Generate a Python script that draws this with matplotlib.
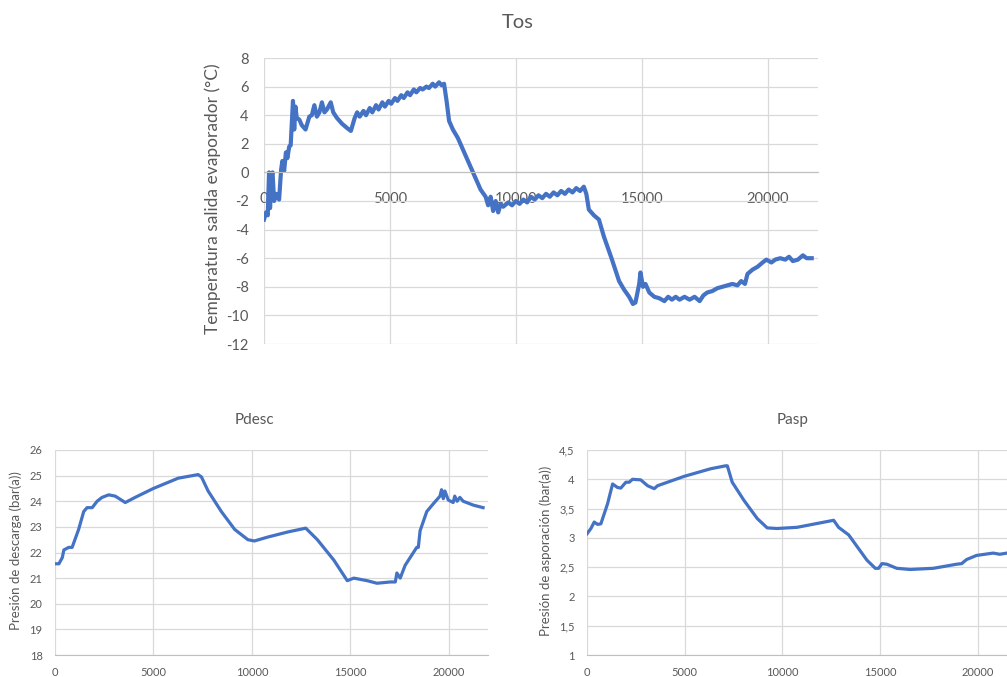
import numpy as np
import matplotlib
matplotlib.use("Agg")
import matplotlib.pyplot as plt
from matplotlib.ticker import FuncFormatter

plt.rcParams['font.family'] = ['Lato', 'DejaVu Sans']
plt.rcParams['axes.unicode_minus'] = False

# ---- datos ----
# Tos: temperatura salida evaporador (°C)
tos_t = [0, 80, 150, 200, 240, 300, 340, 400, 480, 600, 680, 730, 800, 870, 930, 1000, 1060,
         1150, 1200, 1250, 1300, 1400, 1500, 1650, 1800, 1900, 2000, 2100, 2200, 2300, 2400,
         2500, 2650, 2750, 2900, 3100, 3300, 3450,
         3600, 3700, 3800, 3950, 4050, 4200, 4300, 4450, 4550, 4700, 4800, 4950, 5050, 5200,
         5300, 5450, 5550, 5700, 5800, 5950, 6050, 6200, 6300, 6450, 6550, 6700, 6800, 6950,
         7050, 7150,
         7250, 7350, 7500, 7700, 8000, 8300, 8600, 8800, 8900, 9000, 9100, 9200, 9300, 9400,
         9500, 9700, 9850, 10000, 10150, 10300, 10450, 10600, 10750, 10900, 11050, 11200,
         11350, 11500, 11650, 11800, 11950, 12100, 12250, 12400, 12550, 12700,
         12800, 12900, 13100, 13300, 13500, 13800, 14100, 14300, 14500, 14650, 14750, 14900,
         14950, 15050, 15150, 15300, 15500, 15700, 15900, 16050, 16200, 16350, 16500, 16700,
         16900, 17100, 17300, 17450, 17600, 17800, 18000, 18200, 18400, 18600, 18800, 18950,
         19100, 19200, 19400, 19600, 19800, 19950, 20150, 20300, 20500, 20700, 20850, 21000,
         21200, 21400, 21550, 21750]
tos_v = [-3.3, -2.8, -3.0, 0.0, -2.5, -0.2, 0.0, -2.0, -1.5, -1.9, 0.2, 0.8, 0.1, 1.4, 1.0, 1.8, 1.9,
         5.0, 3.0, 4.6, 3.8, 3.7, 3.3, 3.0, 3.9, 4.0, 4.7, 3.9, 4.2, 4.9, 4.2,
         4.4, 4.9, 4.2, 3.8, 3.4, 3.1, 2.9,
         3.8, 4.2, 3.9, 4.3, 4.0, 4.5, 4.2, 4.7, 4.4, 4.9, 4.6, 5.0, 4.8, 5.2,
         5.0, 5.4, 5.2, 5.6, 5.4, 5.8, 5.6, 5.9, 5.8, 6.0, 5.9, 6.2, 6.0, 6.3,
         6.1, 6.2,
         5.0, 3.6, 3.0, 2.4, 1.2, 0.0, -1.2, -1.7, -2.3, -1.7, -2.7, -2.0, -2.8, -2.2,
         -2.4, -2.1, -2.3, -2.0, -2.2, -1.9, -2.1, -1.7, -1.9, -1.6, -1.8, -1.5,
         -1.7, -1.4, -1.6, -1.3, -1.5, -1.2, -1.4, -1.1, -1.3, -1.0,
         -1.5, -2.6, -3.0, -3.3, -4.5, -6.0, -7.6, -8.2, -8.7, -9.2, -9.1, -7.8,
         -7.0, -8.0, -7.8, -8.4, -8.7, -8.8, -9.0, -8.7, -8.9, -8.7, -8.9, -8.7,
         -8.9, -8.7, -9.0, -8.6, -8.4, -8.3, -8.1, -8.0, -7.9, -7.8, -7.9, -7.6,
         -7.8, -7.1, -6.8, -6.6, -6.3, -6.1, -6.3, -6.1, -6.0, -6.1, -5.9, -6.2,
         -6.1, -5.8, -6.0, -6.0]

# Pdesc: presion de descarga (bar(a))
pdesc_t = [0, 200, 370, 450, 700, 870, 1200, 1460, 1630, 1890, 2140, 2390, 2730, 3060, 3570,
           4070, 5000, 6260, 7270, 7440, 7780, 8450, 9130, 9800, 10130, 10800, 11820, 12740,
           13330, 14170, 14850, 15180, 15860, 16360, 17030, 17290, 17370, 17540, 17790,
           18380, 18460, 18550, 18890, 19220, 19560, 19640, 19730, 19810, 19980, 20230,
           20310, 20430, 20570, 20740, 21250, 21750]
pdesc_v = [21.56, 21.56, 21.8, 22.1, 22.2, 22.2, 22.9, 23.6, 23.75, 23.75, 24.0, 24.15, 24.25,
           24.2, 23.95, 24.15, 24.5, 24.9, 25.04, 24.95, 24.4, 23.6, 22.9, 22.5, 22.45, 22.6,
           22.8, 22.95, 22.5, 21.7, 20.9, 21.0, 20.9, 20.8, 20.85, 20.85, 21.2, 21.0, 21.5,
           22.2, 22.2, 22.85, 23.6, 23.9, 24.2, 24.45, 24.1, 24.4, 24.05, 23.95,
           24.2, 24.0, 24.15, 24.0, 23.85, 23.75]

# Pasp: presion de aspiracion (bar(a))
pasp_t = [0, 200, 370, 540, 710, 1050, 1310, 1560, 1730, 1990, 2160, 2330, 2750, 3100, 3440,
          3610, 4970, 6330, 7090, 7180, 7430, 8030, 8710, 9220, 9730, 10750, 12620, 12870,
          13390, 14320, 14750, 14920, 15090, 15340, 15850, 16530, 17720, 18910, 19170,
          19420, 19930, 20780, 21120, 21480, 22000]
pasp_v = [3.07, 3.16, 3.27, 3.23, 3.24, 3.58, 3.92, 3.86, 3.85, 3.95, 3.95, 4.0, 3.99, 3.89,
          3.84, 3.89, 4.05, 4.18, 4.23, 4.23, 3.95, 3.64, 3.33, 3.17, 3.16, 3.18, 3.3, 3.18,
          3.05, 2.62, 2.48, 2.48, 2.56, 2.55, 2.48, 2.46, 2.48, 2.55, 2.56,
          2.63, 2.7, 2.74, 2.72, 2.74, 2.73]

x_ticks = [0, 5000, 10000, 15000, 20000]
tos_ticks = list(range(-12, 9, 2))
pdesc_ticks = list(range(18, 27))
pasp_ticks = [1, 1.5, 2, 2.5, 3, 3.5, 4, 4.5]

azul = '#4472C4'
gris_txt = '#595959'
gris_grid = '#d9d9d9'

W, H = 1007, 677
fig = plt.figure(figsize=(W / 100, H / 100), dpi=100)


def caja(l, r, t, b):
    return [l / W, 1 - b / H, (r - l) / W, (b - t) / H]


def estilo(ax, fs):
    for s in ['top', 'right', 'left']:
        ax.spines[s].set_visible(False)
    ax.spines['bottom'].set_color('#bfbfbf')
    ax.grid(True, color=gris_grid, lw=0.9)
    ax.set_axisbelow(True)
    ax.tick_params(length=0, labelsize=fs, colors=gris_txt)
    ax.set_xticks(x_ticks)
    ax.set_xlim(0, 22000)


# ---- Tos ----
ax1 = fig.add_axes(caja(264, 818, 58, 344))
ax1.plot(tos_t, tos_v, color=azul, lw=3.0, solid_joinstyle='round')
estilo(ax1, 10.5)
ax1.set_ylim(-12, 8)
ax1.set_yticks(tos_ticks)
ax1.spines['bottom'].set_position(('data', 0))
ax1.tick_params(axis='x', pad=14)
ax1.tick_params(axis='y', pad=11)
fig.text(518 / W, 1 - 22 / H, 'Tos', ha='center', va='center', fontsize=14.5, color=gris_txt)
fig.text(213 / W, 1 - 199 / H, 'Temperatura salida evaporador (°C)', rotation=90,
         ha='center', va='center', fontsize=12.5, color=gris_txt)

# ---- Pdesc ----
ax2 = fig.add_axes(caja(55, 488, 450, 655))
ax2.plot(pdesc_t, pdesc_v, color=azul, lw=2.3, solid_joinstyle='round')
estilo(ax2, 8)
ax2.set_ylim(18, 26)
ax2.set_yticks(pdesc_ticks)
ax2.tick_params(axis='x', pad=9)
ax2.tick_params(axis='y', pad=9)
fig.text(254 / W, 1 - 420 / H, 'Pdesc', ha='center', va='center', fontsize=11, color=gris_txt)
fig.text(16 / W, 1 - 551 / H, 'Presión de descarga (bar(a))', rotation=90,
         ha='center', va='center', fontsize=9.5, color=gris_txt)

# ---- Pasp ----
ax3 = fig.add_axes(caja(587, 1017, 450, 655))
ax3.plot(pasp_t, pasp_v, color=azul, lw=2.3, solid_joinstyle='round')
estilo(ax3, 8)
ax3.set_ylim(1, 4.5)
ax3.set_yticks(pasp_ticks)
ax3.yaxis.set_major_formatter(FuncFormatter(lambda v, p: ('%g' % v).replace('.', ',')))
ax3.tick_params(axis='x', pad=9)
ax3.tick_params(axis='y', pad=9)
fig.text(793 / W, 1 - 420 / H, 'Pasp', ha='center', va='center', fontsize=11, color=gris_txt)
fig.text(546 / W, 1 - 551 / H, 'Presión de asporación (bar(a))', rotation=90,
         ha='center', va='center', fontsize=9.5, color=gris_txt)

fig.savefig('out.png', dpi=100)
